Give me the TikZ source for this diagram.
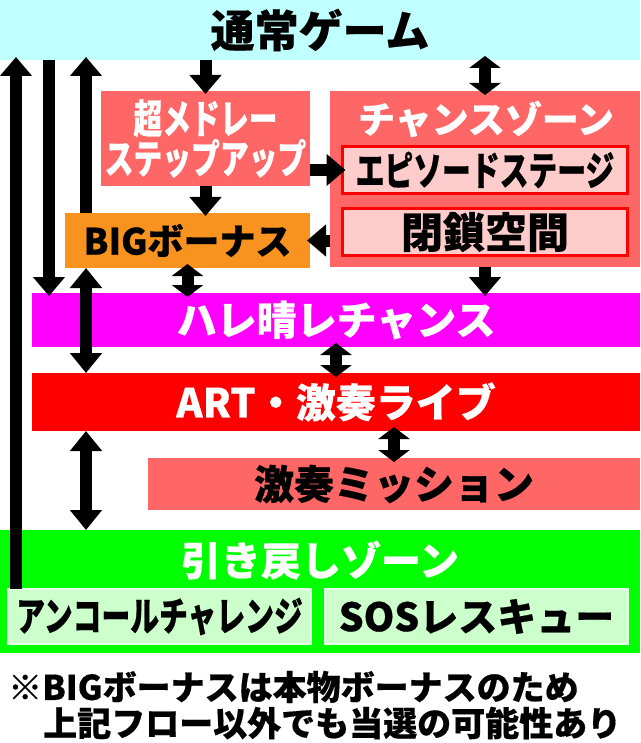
\documentclass[tikz,border=0pt]{standalone}
\usepackage{fontspec}
\setmainfont{Noto Sans CJK JP}[BoldFeatures={FakeBold=0.5}]
\newfontfamily\condjp{Noto Sans CJK JP}[FakeStretch=0.72, BoldFeatures={FakeBold=0.5}]
\usetikzlibrary{arrows.meta}
\definecolor{gamecyan}{HTML}{C0FFFF}
\definecolor{salmon}{HTML}{FF6666}
\definecolor{bigorange}{HTML}{F7931E}
\definecolor{palepink}{HTML}{FFCCCC}
\definecolor{palegreen}{HTML}{CCFFCC}
\definecolor{edgegreen}{HTML}{E6FFE6}
\definecolor{harepink}{HTML}{FF00FF}
\definecolor{artred}{HTML}{FF0000}
\definecolor{backgreen}{HTML}{00FF00}

\begin{document}
\begin{tikzpicture}[x=1pt,y=-1pt,
    zone/.style={inner sep=0pt, outer sep=0pt},
    txt/.style={font=\bfseries\fontsize{#1}{#1}\selectfont},
    ctxt/.style={font=\condjp\bfseries\fontsize{#1}{#1}\selectfont},
    inbox/.style={zone, fill=palepink, draw=red, line width=3pt, minimum width=285pt, minimum height=47pt},
    subzone/.style={zone, fill=palegreen, draw=edgegreen, line width=2pt, minimum width=303pt, minimum height=55pt},
    arr/.style={line width=12pt, shorten >=-3pt, -{Triangle[width=31pt,length=19pt]}},
    darr/.style={line width=12pt, {Triangle[width=31pt,length=20pt]}-{Triangle[width=31pt,length=20pt]}},
    sdarr/.style={line width=12pt, shorten <=-4pt, shorten >=-4pt, {Triangle[width=31pt,length=12pt]}-{Triangle[width=31pt,length=12pt]}}]
    \useasboundingbox (0,0) rectangle (640,743);
    \coordinate (laneA) at (16,0);
    \coordinate (laneB) at (49,0);
    \coordinate (laneC) at (86,0);
    \node[zone, fill=gamecyan, minimum width=640pt, minimum height=60pt, txt=44] (game) at (320,30) {通常ゲーム};
    \node[zone, fill=salmon, minimum width=209pt, minimum height=95pt, ctxt=40, text=white, align=center] (medley) at (205.5,138.5) {超メドレー\\ステップアップ};
    \node[zone, fill=salmon, minimum width=310pt, minimum height=176pt] (chance) at (485,179) {};
    \node[txt=37, text=white] (chancetitle) at (486,119) {チャンスゾーン};
    \node[inbox, ctxt=40] (episode) at (485,170) {エピソードステージ};
    \node[inbox, txt=42] (closed) at (485,232) {閉鎖空間};
    \node[zone, fill=bigorange, minimum width=245pt, minimum height=55pt, txt=36] (big) at (187.5,240.5) {BIGボーナス};
    \node[zone, fill=harepink, minimum width=608pt, minimum height=54pt, txt=40, text=white] (hare) at (336,320) {ハレ晴レチャンス};
    \node[zone, fill=artred, minimum width=608pt, minimum height=58pt, txt=40, text=white] (art) at (336,402) {ART・激奏ライブ};
    \node[zone, fill=salmon, minimum width=492pt, minimum height=52pt, txt=40] (mission) at (394,484) {激奏ミッション};
    \node[zone, fill=backgreen, minimum width=640pt, minimum height=123pt] (back) at (320,591.5) {};
    \node[txt=40, text=white] (backtitle) at (320,560) {引き戻しゾーン};
    \node[subzone, ctxt=40] (encore) at (159.5,616.5) {アンコールチャレンジ};
    \node[subzone, txt=39] (sos) at (476.5,616.5) {SOSレスキュー};
    \node[txt=34, anchor=west, inner sep=0pt] (note1) at (8,687) {※BIGボーナスは本物ボーナスのため};
    \node[txt=34, anchor=west, inner sep=0pt] (note2) at (43,723) {上記フロー以外でも当選の可能性あり};
    \draw [arr] (encore.north -| laneA) to (game.south -| laneA);
    \draw [arr] (game.south -| laneB) to (hare.north -| laneB);
    \draw [arr] (big.north -| laneC) to (game.south -| laneC);
    \draw [arr] (game.south -| medley) to (medley.north);
    \draw [sdarr] (game.south -| chance) to (chance.north);
    \draw [arr] (medley.east |- episode) to (episode.west);
    \draw [arr] (medley.south) to (big.north -| medley);
    \draw [arr] (chance.west |- big) to (big.east);
    \draw [sdarr] (big.south) to (hare.north -| big);
    \draw [arr] (chance.south) to (hare.north -| chance);
    \draw [darr] (big.south -| laneC) to (art.north -| laneC);
    \draw [sdarr] (hare.south) to (art.north);
    \draw [sdarr] (art.south -| mission) to (mission.north);
    \draw [darr] (art.south -| laneC) to (back.north -| laneC);
  \end{tikzpicture}
\end{document}
